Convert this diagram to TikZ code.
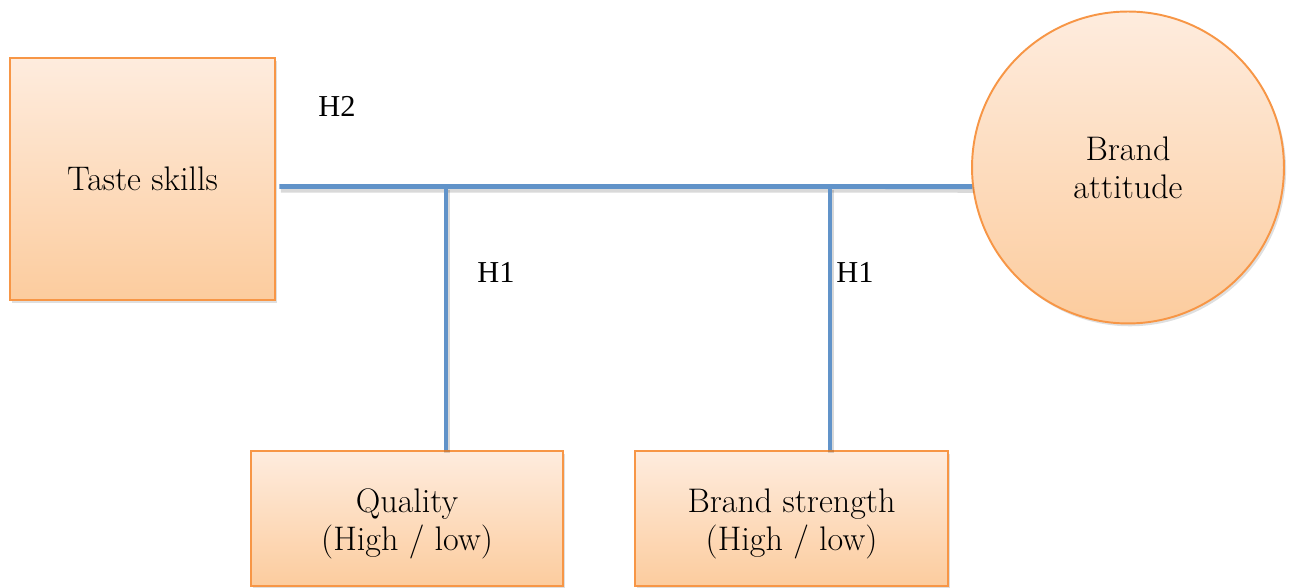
\documentclass[tikz,border=0pt]{standalone}
\usepackage{fontspec}
\newfontfamily\timesf{Liberation Serif}
\usetikzlibrary{shadows}
\definecolor{boxline}{RGB}{247,150,70}
\definecolor{boxtop}{RGB}{254,236,222}
\definecolor{boxbot}{RGB}{252,204,158}
\definecolor{linkblue}{RGB}{97,147,201}
\tikzset{bx/.style = {rectangle, draw=boxline, line width=1.1pt, top color=boxtop, bottom color=boxbot,
                      inner sep=0pt, align=center, font=\fontsize{19.4}{21.8}\selectfont,
                      drop shadow={opacity=.25, shadow xshift=1.2pt, shadow yshift=-1.6pt}},
         cr/.style = {circle, draw=boxline, line width=1.1pt, top color=boxtop, bottom color=boxbot,
                      inner sep=0pt, minimum size=6.24cm, align=center, font=\fontsize{19.4}{21.8}\selectfont,
                      drop shadow={opacity=.25, shadow xshift=1.2pt, shadow yshift=-1.6pt}},
         ln/.style = {draw=linkblue, line width=2.8pt,
                      preaction={draw=black, opacity=.15, line width=3.4pt, transform canvas={xshift=.8pt, yshift=-1.8pt}}},
         hl/.style = {inner sep=0pt, font=\timesf\fontsize{17.3}{20}\selectfont}}

\begin{document}
\begin{tikzpicture}[x=0.02cm, y=0.02cm]
    \useasboundingbox (0,0) rectangle (1289,588);
    \node[bx, minimum width=5.3cm, minimum height=4.84cm] (taste) at (142.5,409) {Taste skills};
    \node[cr] (att) at (1128,420.5) {Brand\\attitude};
    \node[bx, minimum width=6.24cm, minimum height=2.7cm, text height=41.8pt] (qual) at (407,69.5) {Quality\\(High / low)};
    \node[bx, minimum width=6.26cm, minimum height=2.7cm, text height=41.8pt] (str) at (791.5,69.5) {Brand strength\\(High / low)};
    \coordinate (j1) at (446,401.5);
    \coordinate (j2) at (830,401.5);
    % links
    \draw[ln, shorten <=2pt] (taste.east |- j1) -- (j1) -- (j2) -- (att.187);
    \draw[ln] (j1) -- (j1 |- qual.north);
    \draw[ln] (j2) -- (j2 |- str.north);
    % hypotheses
    \node[hl] (h2) at (337,482) {H2};
    \node[hl] (h1a) at (496,316) {H1};
    \node[hl] (h1b) at (855,316) {H1};
\end{tikzpicture}
\end{document}
